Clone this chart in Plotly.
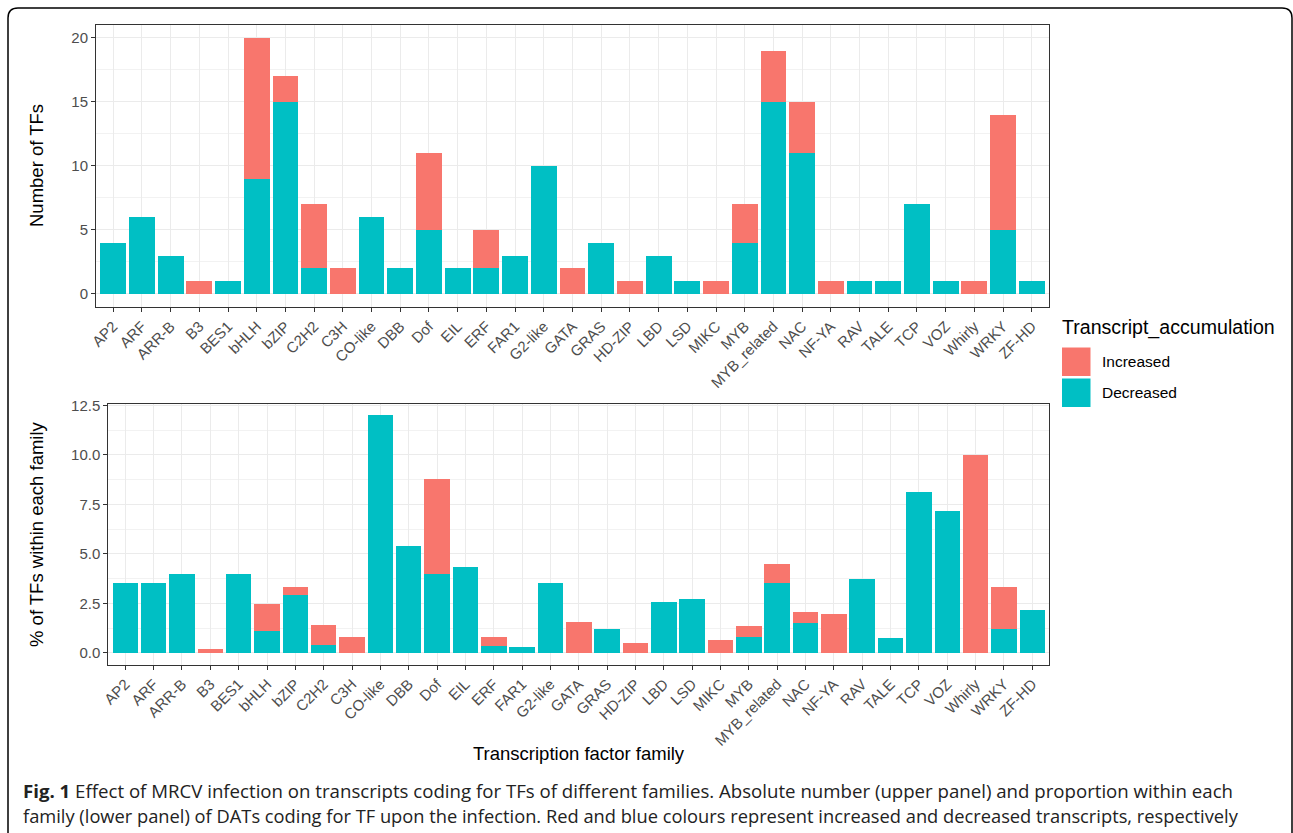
import plotly.graph_objects as go

W, H = 1293, 833

categories = ["AP2", "ARF", "ARR-B", "B3", "BES1", "bHLH", "bZIP", "C2H2", "C3H", "CO-like",
              "DBB", "Dof", "EIL", "ERF", "FAR1", "G2-like", "GATA", "GRAS", "HD-ZIP", "LBD",
              "LSD", "MIKC", "MYB", "MYB_related", "NAC", "NF-YA", "RAV", "TALE", "TCP", "VOZ",
              "Whirly", "WRKY", "ZF-HD"]

count_decreased = [4, 6, 3, 0, 1, 9, 15, 2, 0, 6, 2, 5, 2, 2, 3, 10, 0, 4, 0, 3,
                   1, 0, 4, 15, 11, 0, 1, 1, 7, 1, 0, 5, 1]
count_increased = [0, 0, 0, 1, 0, 11, 2, 5, 2, 0, 0, 6, 0, 3, 0, 0, 2, 0, 1, 0,
                   0, 1, 3, 4, 4, 1, 0, 0, 0, 0, 1, 9, 0]

pct_decreased = [3.54, 3.51, 4.0, 0, 4.0, 1.11, 2.93, 0.40, 0, 12.0, 5.41, 4.0, 4.35, 0.34, 0.30,
                 3.54, 0, 1.21, 0, 2.56, 2.71, 0, 0.78, 3.54, 1.52, 0, 3.71, 0.73, 8.12, 7.15,
                 0, 1.20, 2.16]
pct_increased = [0, 0, 0, 0.17, 0, 1.34, 0.41, 0.98, 0.79, 0, 0, 4.80, 0, 0.44, 0, 0, 1.57, 0,
                 0.47, 0, 0, 0.64, 0.57, 0.94, 0.55, 1.94, 0, 0, 0, 0, 10.0, 2.11, 0]

top_ticks = [0, 5, 10, 15, 20]
bottom_ticks = [0, 2.5, 5, 7.5, 10, 12.5]
bottom_ticklabels = ["0.0", "2.5", "5.0", "7.5", "10.0", "12.5"]

C_INC = "#F8766D"
C_DEC = "#00BFC4"
FONT = "Liberation Sans, Arial, sans-serif"
CAP_FONT = "Open Sans, sans-serif"


def px(x):
    return x / W


def py(y):
    return 1 - y / H


fig = go.Figure()
fig.add_trace(go.Bar(x=categories, y=count_decreased, marker=dict(color=C_DEC, line=dict(width=0)),
                     name="Decreased", xaxis="x", yaxis="y", showlegend=False))
fig.add_trace(go.Bar(x=categories, y=count_increased, marker=dict(color=C_INC, line=dict(width=0)),
                     name="Increased", xaxis="x", yaxis="y", showlegend=False))
fig.add_trace(go.Bar(x=categories, y=pct_decreased, marker=dict(color=C_DEC, line=dict(width=0)),
                     name="Decreased", xaxis="x2", yaxis="y2", showlegend=False))
fig.add_trace(go.Bar(x=categories, y=pct_increased, marker=dict(color=C_INC, line=dict(width=0)),
                     name="Increased", xaxis="x2", yaxis="y2", showlegend=False))

axis_common = dict(showline=True, linecolor="#333333", linewidth=1, mirror=True,
                   ticks="outside", ticklen=4, tickcolor="#333333", tickwidth=1,
                   gridcolor="#EBEBEB", gridwidth=1, zeroline=False, automargin=False,
                   tickfont=dict(family=FONT, size=15, color="#4D4D4D"))

fig.update_layout(
    width=W, height=H, margin=dict(l=0, r=0, t=0, b=0, autoexpand=False),
    paper_bgcolor="white", plot_bgcolor="white",
    barmode="stack", bargap=0.1,
    font=dict(family=FONT),
    xaxis=dict(domain=[px(96), px(1049)], anchor="y", range=[-0.6, 32.6],
               tickangle=-45, categoryorder="array", categoryarray=categories, **axis_common),
    yaxis=dict(domain=[py(306.8), py(24.9)], anchor="x", range=[-1, 21],
               tickvals=top_ticks, ticktext=[str(t) for t in top_ticks],
               minor=dict(tickvals=[2.5, 7.5, 12.5, 17.5], showgrid=True, gridcolor="#F2F2F2",
                          gridwidth=1, ticks=""),
               **axis_common),
    xaxis2=dict(domain=[px(108.3), px(1049.3)], anchor="y2", range=[-0.6, 32.6],
                tickangle=-45, categoryorder="array", categoryarray=categories, **axis_common),
    yaxis2=dict(domain=[py(664.6), py(403.5)], anchor="x2", range=[-0.6, 12.6],
                tickvals=bottom_ticks, ticktext=bottom_ticklabels,
                minor=dict(tickvals=[1.25, 3.75, 6.25, 8.75, 11.25], showgrid=True,
                           gridcolor="#F2F2F2", gridwidth=1, ticks=""),
                **axis_common),
)

annotations = [
    dict(text="Number of TFs", x=px(36), y=py(166), textangle=-90,
         font=dict(size=18.5, color="black", family=FONT)),
    dict(text="% of TFs within each family", x=px(36), y=py(534), textangle=-90,
         font=dict(size=18.5, color="black", family=FONT)),
    dict(text="Transcription factor family", x=px(579), y=py(753),
         font=dict(size=18.5, color="black", family=FONT)),
    # legend
    dict(text="Transcript_accumulation", x=px(1060), y=py(327), xanchor="left",
         font=dict(size=19.6, color="black", family=FONT)),
    dict(text="Increased", x=px(1100), y=py(362), xanchor="left",
         font=dict(size=15.5, color="black", family=FONT)),
    dict(text="Decreased", x=px(1100), y=py(392), xanchor="left",
         font=dict(size=15.5, color="black", family=FONT)),
    # caption
    dict(text="<b>Fig. 1</b> Effect of MRCV infection on transcripts coding for TFs of different families. "
              "Absolute number (upper panel) and proportion within each",
         x=px(21), y=py(790), xanchor="left",
         font=dict(size=18.65, color="#222222", family=CAP_FONT)),
    dict(text="family (lower panel) of DATs coding for TF upon the infection. Red and blue colours "
              "represent increased and decreased transcripts, respectively",
         x=px(21), y=py(815), xanchor="left",
         font=dict(size=18.3, color="#222222", family=CAP_FONT)),
]
for a in annotations:
    a.update(xref="paper", yref="paper", showarrow=False, yanchor=a.get("yanchor", "middle"),
             xanchor=a.get("xanchor", "center"))
fig.update_layout(annotations=annotations)

shapes = [
    dict(type="rect", xref="paper", yref="paper", x0=px(1062), x1=px(1090.5), y0=py(347.5), y1=py(376),
         fillcolor=C_INC, line=dict(width=0)),
    dict(type="rect", xref="paper", yref="paper", x0=px(1062), x1=px(1090.5), y0=py(378.5), y1=py(407),
         fillcolor=C_DEC, line=dict(width=0)),
]
# outer rounded frame
r = 10
path = (f"M {px(8)},{py(850)} L {px(8)},{py(8 + r)} Q {px(8)},{py(8)} {px(8 + r)},{py(8)} "
        f"L {px(1292 - r)},{py(8)} Q {px(1292)},{py(8)} {px(1292)},{py(8 + r)} L {px(1292)},{py(850)}")
shapes.append(dict(type="path", xref="paper", yref="paper", path=path,
                   line=dict(color="black", width=1.5)))
fig.update_layout(shapes=shapes)

fig.write_html("out.html", config={"displayModeBar": False},
               post_script="document.body.style.margin='0';document.body.style.overflow='hidden';")
